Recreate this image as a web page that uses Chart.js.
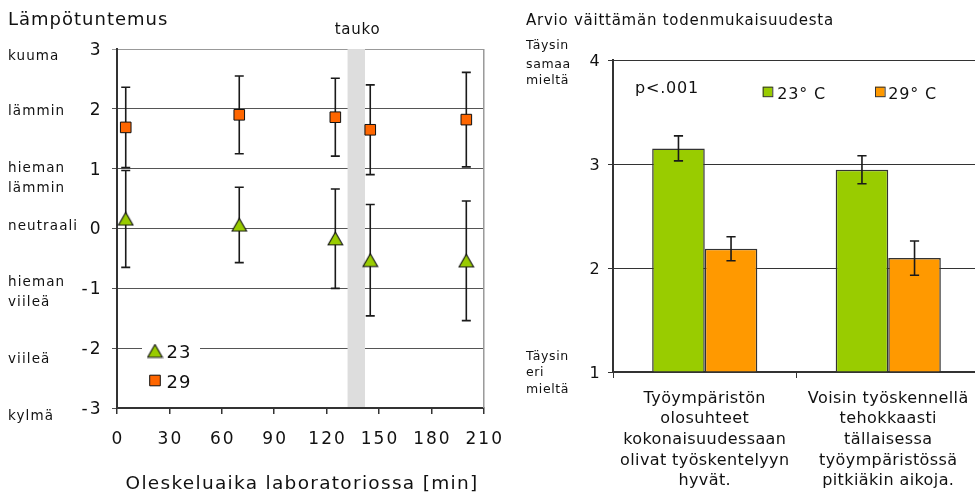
<!DOCTYPE html>
<html><head><meta charset="utf-8">
<script src="https://cdn.jsdelivr.net/npm/chart.js@4.4.1/dist/chart.umd.min.js"></script>
<style>
html,body{margin:0;padding:0;background:#fff;overflow:hidden;width:975px;height:494px}
body{position:relative;font-family:"DejaVu Sans",sans-serif;color:#111}
.t{position:absolute;white-space:nowrap;line-height:1;letter-spacing:0.05em}
#w1{position:absolute;left:0;top:0;width:515px;height:494px}
#w2{position:absolute;left:520px;top:0;width:470px;height:494px}
</style></head><body>
<div id="w1"><canvas id="c1"></canvas></div>
<div id="w2"><canvas id="c2"></canvas></div>
<script>
// ---- left chart data ----
const timeMin = [5, 70, 125, 145, 200];
const sensation23 = [0.16, 0.06, -0.17, -0.53, -0.54];
const sensation23Sd = [0.81, 0.63, 0.83, 0.93, 1.00];
const sensation29 = [1.69, 1.90, 1.86, 1.65, 1.82];
const sensation29Sd = [0.67, 0.65, 0.65, 0.75, 0.79];
const seriesNames = ['23', '29'];
const pauseMin = [132, 142];
const xTickValues = [0, 30, 60, 90, 120, 150, 180, 210];
const yTickValues = [-3, -2, -1, 0, 1, 2, 3];
const scaleWords = [['kuuma'], ['lämmin'], ['hieman', 'lämmin'], ['neutraali'], ['hieman', 'viileä'], ['viileä'], ['kylmä']];

// ---- right chart data ----
const statements = [
  ['Työympäristön', 'olosuhteet', 'kokonaisuudessaan', 'olivat työskentelyyn', 'hyvät.'],
  ['Voisin työskennellä', 'tehokkaasti', 'tällaisessa', 'työympäristössä', 'pitkiäkin aikoja.']
];
const barNames = ['23° C', '29° C'];
const agree23 = [3.15, 2.945];
const agree23Err = [0.12, 0.135];
const agree29 = [2.185, 2.095];
const agree29Err = [0.115, 0.165];
const ratingTicks = [1, 2, 3, 4];

Chart.defaults.font.family = '"DejaVu Sans", sans-serif';
Chart.defaults.color = '#111';
Chart.defaults.animation = false;

function addText(txt, x, base, fs, align, ls) {
  const d = document.createElement('div');
  d.className = 't';
  d.textContent = txt;
  d.style.fontSize = fs + 'px';
  d.style.top = (base - 0.846 * fs) + 'px';
  d.style.left = x + 'px';
  if (ls !== undefined) d.style.letterSpacing = ls + 'px';
  if (align === 'center') d.style.transform = 'translateX(-50%)';
  document.body.appendChild(d);
}

// triangle marker whose bounding box is centred on the data point
function makeTriangle(fill) {
  const c = document.createElement('canvas');
  c.width = 17; c.height = 15;
  const g = c.getContext('2d');
  g.beginPath();
  g.moveTo(8.5, 1); g.lineTo(15.8, 13.8); g.lineTo(1.2, 13.8); g.closePath();
  g.fillStyle = fill; g.fill();
  g.lineWidth = 1.1; g.strokeStyle = '#111'; g.stroke();
  return c;
}
const triGreen = makeTriangle('#99cc00');

function drawErrors(chart, cap) {
  const ctx = chart.ctx, ys = chart.scales.y;
  ctx.save();
  ctx.strokeStyle = '#1a1a1a';
  ctx.lineWidth = 1.6;
  chart.data.datasets.forEach((ds, di) => {
    const meta = chart.getDatasetMeta(di);
    meta.data.forEach((el, i) => {
      const raw = ds.data[i];
      const v = typeof raw === 'object' ? raw.y : raw;
      const e = ds.errors[i];
      const x = el.x;
      const y1 = ys.getPixelForValue(v + e), y2 = ys.getPixelForValue(v - e);
      ctx.beginPath();
      ctx.moveTo(x, y1); ctx.lineTo(x, y2);
      ctx.moveTo(x - cap, y1); ctx.lineTo(x + cap, y1);
      ctx.moveTo(x - cap, y2); ctx.lineTo(x + cap, y2);
      ctx.stroke();
    });
  });
  ctx.restore();
}

const leftPlugin = {
  id: 'leftDecor',
  beforeDraw(chart) { chart.ctx.letterSpacing = '2px'; },
  beforeDatasetsDraw(chart) {
    const ctx = chart.ctx, a = chart.chartArea, xs = chart.scales.x;
    ctx.save();
    ctx.fillStyle = '#dddddd';
    const bx1 = xs.getPixelForValue(pauseMin[0]), bx2 = xs.getPixelForValue(pauseMin[1]);
    ctx.fillRect(bx1, a.top, bx2 - bx1, a.bottom - a.top - 1);
    ctx.strokeStyle = '#999';
    ctx.lineWidth = 1.5;
    ctx.beginPath(); ctx.moveTo(a.right, a.top); ctx.lineTo(a.right, a.bottom); ctx.stroke();
    ctx.restore();
    drawErrors(chart, 4.5);
  },
  afterDraw(chart) {
    const ctx = chart.ctx;
    ctx.save();
    ctx.letterSpacing = '1px';
    ctx.fillStyle = '#fff';
    ctx.fillRect(142, 336, 58, 59);
    chart.data.datasets.forEach((ds, i) => {
      const cy = i === 0 ? 351 : 380.5;
      ctx.fillStyle = ds.backgroundColor;
      ctx.strokeStyle = ds.borderColor;
      ctx.lineWidth = ds.borderWidth;
      Chart.helpers.drawPoint(ctx, {pointStyle: ds.pointStyle, radius: i === 0 ? 8 : 7.5, borderWidth: ds.borderWidth}, 155, cy);
      ctx.fillStyle = '#111';
      ctx.font = '18px "DejaVu Sans"';
      ctx.textBaseline = 'alphabetic';
      ctx.fillText(ds.label, 166.5, i === 0 ? 357.7 : 388.3);
    });
    ctx.restore();
  }
};

new Chart(document.getElementById('c1'), {
  type: 'scatter',
  data: {
    datasets: [
      {label: seriesNames[0], data: timeMin.map((t, i) => ({x: t, y: sensation23[i]})), errors: sensation23Sd,
       pointStyle: triGreen, pointRadius: 8, backgroundColor: '#99cc00', borderColor: '#111', borderWidth: 1},
      {label: seriesNames[1], data: timeMin.map((t, i) => ({x: t, y: sensation29[i]})), errors: sensation29Sd,
       pointStyle: 'rect', pointRadius: 7.5, backgroundColor: '#ff6600', borderColor: '#111', borderWidth: 1}
    ]
  },
  options: {
    responsive: true, maintainAspectRatio: false, animation: false,
    layout: {padding: {top: 49, right: 27, left: 0, bottom: 0}},
    plugins: {legend: {display: false}, tooltip: {enabled: false}},
    scales: {
      x: {type: 'linear', min: 0, max: 210,
          afterBuildTicks: s => { s.ticks = xTickValues.map(v => ({value: v})); },
          ticks: {font: {size: 17}, padding: 15, color: '#111', labelOffset: 1},
          grid: {drawOnChartArea: false, tickLength: 6, color: '#333', lineWidth: 1.5},
          border: {color: '#333', width: 2},
          afterFit: s => { s.height = 86; }},
      y: {min: -3, max: 3,
          afterBuildTicks: s => { s.ticks = yTickValues.map(v => ({value: v})); },
          ticks: {font: {size: 17}, padding: 9.5, color: '#111', labelOffset: 1.5},
          grid: {color: c => (c.tick && c.tick.value === 3) ? '#999' : '#555', tickLength: 5, lineWidth: 1},
          border: {color: '#333', width: 2},
          afterFit: s => { s.width = 117; }}
    }
  },
  plugins: [leftPlugin]
});

const rightPlugin = {
  id: 'rightDecor',
  beforeDraw(chart) { chart.ctx.letterSpacing = '0.4px'; },
  afterDatasetsDraw(chart) { drawErrors(chart, 4.6); },
  afterDraw(chart) {
    const ctx = chart.ctx;
    ctx.save();
    ctx.letterSpacing = '0.8px';
    const pos = [[242.7, 257.3], [355, 368.3]];
    chart.data.datasets.forEach((ds, i) => {
      ctx.fillStyle = ds.backgroundColor;
      ctx.fillRect(pos[i][0], 86.7, 9.6, 10);
      ctx.strokeStyle = '#333'; ctx.lineWidth = 1;
      ctx.strokeRect(pos[i][0] + 0.5, 87.2, 9.6, 9.5);
      ctx.fillStyle = '#111';
      ctx.font = '16px "DejaVu Sans"';
      ctx.fillText(ds.label, pos[i][1], 99.3);
    });
    ctx.restore();
  }
};

new Chart(document.getElementById('c2'), {
  type: 'bar',
  data: {
    labels: statements,
    datasets: [
      {label: barNames[0], data: agree23, errors: agree23Err, base: 1, backgroundColor: '#99cc00', borderColor: '#333', borderWidth: 1.5},
      {label: barNames[1], data: agree29, errors: agree29Err, base: 1, backgroundColor: '#ff9900', borderColor: '#333', borderWidth: 1.5}
    ]
  },
  options: {
    responsive: true, maintainAspectRatio: false, animation: false,
    layout: {padding: {top: 60, right: 10, left: 0, bottom: 0}},
    datasets: {bar: {categoryPercentage: 0.573, barPercentage: 1}},
    plugins: {legend: {display: false}, tooltip: {enabled: false}},
    scales: {
      x: {ticks: {font: {size: 16, lineHeight: 1.295}, padding: 10, maxRotation: 0, autoSkip: false, color: '#111'},
          grid: {drawOnChartArea: false, tickLength: 6, color: '#333', offset: true},
          border: {color: '#333', width: 2},
          afterFit: s => { s.height = 122; }},
      y: {min: 1, max: 4,
          afterBuildTicks: s => { s.ticks = ratingTicks.map(v => ({value: v})); },
          ticks: {font: {size: 16}, padding: 8, color: '#111', labelOffset: 2},
          grid: {color: '#333', tickLength: 5, lineWidth: 1},
          border: {color: '#333', width: 2},
          afterFit: s => { s.width = 93; }}
    }
  },
  plugins: [rightPlugin]
});

// ---- text annotations ----
addText('Lämpötuntemus', 8, 25.7, 18, 'left', 1);
addText('tauko', 357.5, 35, 15, 'center');
const wordBases = [[60], [115.7], [172.7, 192.7], [230], [286.7, 306.7], [363.3], [420]];
scaleWords.forEach((w, i) => w.forEach((line, j) => addText(line, 8, wordBases[i][j], 13.5, 'left', 1.1)));
addText('Oleskeluaika laboratoriossa [min]', 302, 490, 18.5, 'center', 1.3);

addText('Arvio väittämän todenmukaisuudesta', 526, 26, 15);
['Täysin', 'samaa', 'mieltä'].forEach((l, i) => addText(l, 526, [50, 68.3, 84.3][i], 12.5));
['Täysin', 'eri', 'mieltä'].forEach((l, i) => addText(l, 526, [360.7, 377, 394][i], 12.5));
addText('p<.001', 635, 94, 16);
</script>
</body></html>
